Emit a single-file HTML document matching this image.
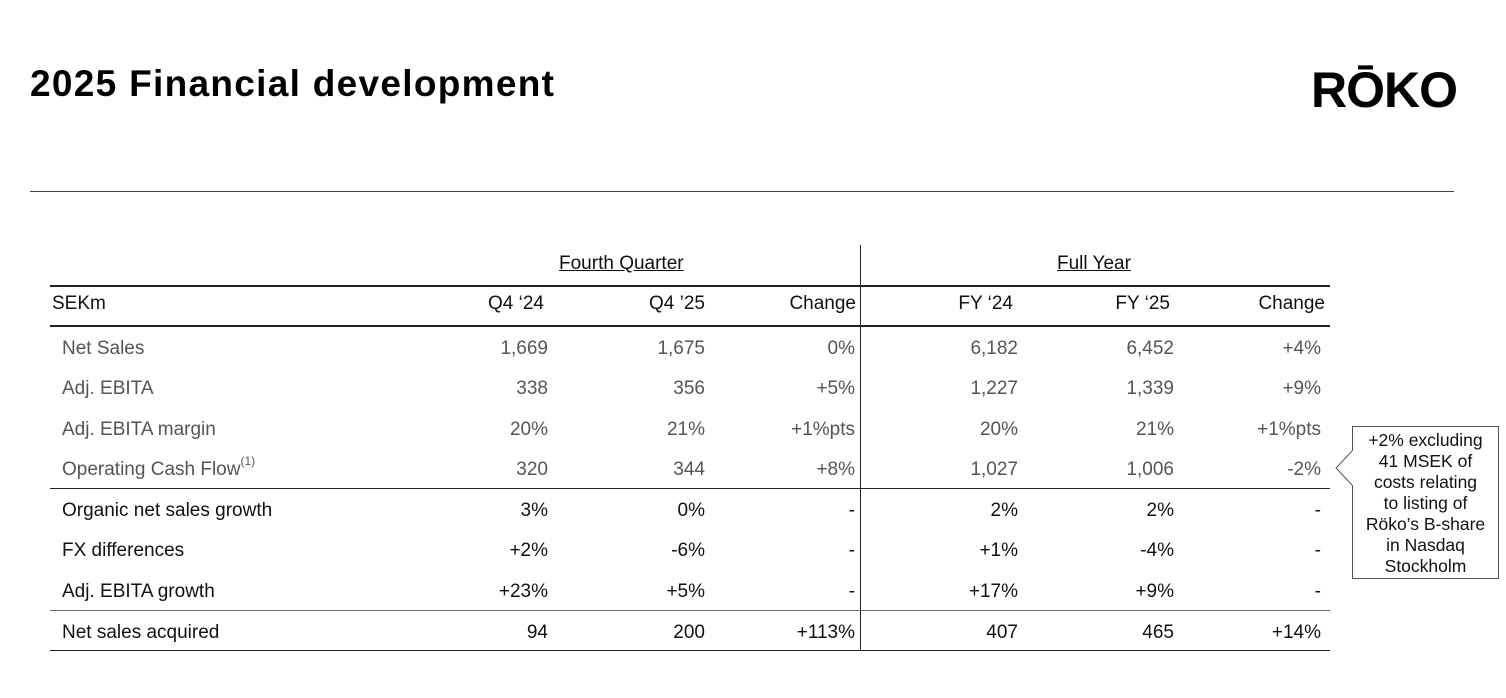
<!DOCTYPE html>
<html><head><meta charset="utf-8"><style>
body{margin:0;width:1506px;height:698px;background:#fff;position:relative;overflow:hidden;font-family:"Liberation Sans",sans-serif;}
.t{position:absolute;font-size:19px;white-space:nowrap;line-height:22px;}
.r{text-align:right;width:200px;}
.g{color:#555;}
.k{color:#111;}
.h{position:absolute;background:#222;height:1px;}
sup{font-size:12px;line-height:0;position:relative;top:2px;vertical-align:top;}
</style></head><body>
<div style="position:absolute;left:30px;top:63px;font-size:37px;font-weight:bold;color:#000;letter-spacing:1.3px;">2025 Financial development</div>
<div style="position:absolute;left:1311px;top:62px;font-size:50px;font-weight:bold;letter-spacing:-1px;color:#000;line-height:56px;">RŌKO</div>
<div class="h" style="left:30px;top:191px;width:1424px;background:#444;"></div>

<div style="position:absolute;left:860px;top:245px;width:1px;height:406px;background:#222;"></div>
<div class="h" style="left:50px;top:285px;width:1280px;height:2px;"></div>
<div class="h" style="left:50px;top:325px;width:1280px;height:2px;"></div>
<div class="h" style="left:50px;top:488px;width:1280px;"></div>
<div class="h" style="left:50px;top:610px;width:1280px;background:#666;"></div>
<div class="h" style="left:50px;top:650px;width:1280px;"></div>

<div class="t k" style="left:559px;top:253px;text-decoration:underline;">Fourth Quarter</div>
<div class="t k" style="left:1057px;top:253px;text-decoration:underline;">Full Year</div>

<div id="rows"></div>

<div style="position:absolute;left:1352px;top:426px;width:147px;height:153px;border:1px solid #555;box-sizing:border-box;background:#fff;font-size:17.5px;line-height:21px;text-align:center;color:#111;padding-top:3px;white-space:nowrap;">+2% excluding<br>41 MSEK of<br>costs relating<br>to listing of<br>Röko’s B-share<br>in Nasdaq<br>Stockholm</div>
<svg style="position:absolute;left:1334px;top:450px" width="20" height="40"><polyline points="19,0 2,18 19,36" fill="#fff" stroke="#555" stroke-width="1"/><line x1="19" y1="1" x2="19" y2="35" stroke="#fff" stroke-width="2"/></svg>

<script>
var rows=[
["SEKm","Q4 ‘24","Q4 ’25","Change","FY ‘24","FY ‘25","Change",304,"k"],
["Net Sales","1,669","1,675","0%","6,182","6,452","+4%",349,"g"],
["Adj. EBITA","338","356","+5%","1,227","1,339","+9%",389,"g"],
["Adj. EBITA margin","20%","21%","+1%pts","20%","21%","+1%pts",430,"g"],
["Operating Cash Flow<sup>(1)</sup>","320","344","+8%","1,027","1,006","-2%",470,"g"],
["Organic net sales growth","3%","0%","-","2%","2%","-",511,"k"],
["FX differences","+2%","-6%","-","+1%","-4%","-",551,"k"],
["Adj. EBITA growth","+23%","+5%","-","+17%","+9%","-",592,"k"],
["Net sales acquired","94","200","+113%","407","465","+14%",633,"k"]];
var xs=[548,705,855,1018,1174,1321];
var h="";
rows.forEach(function(r,i){
var y=r[7]-11;var c=r[8];
h+='<div class="t '+c+'" style="left:'+(i==0?52:62)+'px;top:'+y+'px">'+r[0]+'</div>';
for(var j=0;j<6;j++){var x=xs[j];if(i==0){x=[544,705,856,1013,1170,1325][j];}
h+='<div class="t r '+c+'" style="left:'+(x-200)+'px;top:'+y+'px">'+r[j+1]+'</div>';}
});
document.getElementById("rows").innerHTML=h;
</script>
</body></html>
